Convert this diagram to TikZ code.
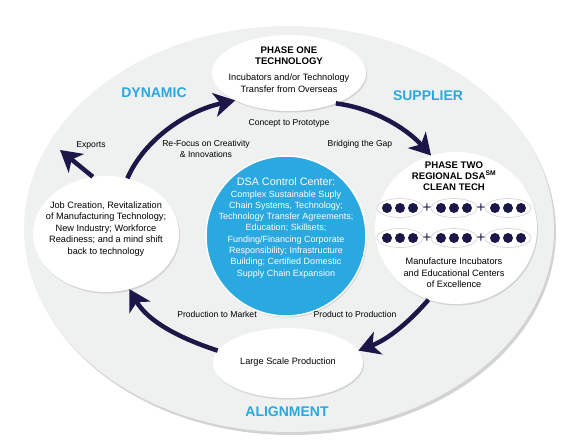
\documentclass[tikz,border=0pt]{standalone}
\usepackage{fontspec}
\setmainfont{Liberation Sans}
\usetikzlibrary{arrows.meta}
\usetikzlibrary{shapes}
\usetikzlibrary{shadows}

\definecolor{navy}{HTML}{1B1748}
\definecolor{dsablue}{HTML}{2AA8E0}
\definecolor{panel}{HTML}{EFF0F0}

\begin{document}
\begin{tikzpicture}[x=1pt, y=-1pt,
    bubble/.style={ellipse, fill=white, inner sep=0pt,
        drop shadow={shadow xshift=1pt, shadow yshift=-1.5pt, opacity=0.25}},
    txt/.style={align=center, font=\fontsize{9.2}{11.5}\selectfont},
    head/.style={align=center, font=\fontsize{9.6}{10.8}\selectfont\bfseries},
    tag/.style={align=center, font=\fontsize{8.6}{11}\selectfont},
    banner/.style={text=dsablue, font=\fontsize{14}{16}\selectfont\bfseries},
    flow/.style={draw=navy, line width=4.5pt, -{Stealth[length=21pt, width=24pt, inset=6pt]}},
    pod/.style={ellipse, fill=white, draw=navy!18, line width=0.7pt,
        minimum width=46pt, minimum height=19pt, inner sep=0pt},
    bead/.style={circle, fill=navy, minimum size=10pt, inner sep=0pt},
    plus/.style={text=navy, inner sep=0pt, font=\fontsize{15}{15}\selectfont}]

            \useasboundingbox (0,0) rectangle (564,446);

            % background board
            \node[ellipse, fill=panel, minimum width=530pt, minimum height=406pt,
                drop shadow={shadow xshift=2pt, shadow yshift=-3pt, opacity=0.35}] (board) at (289,229) {};

            % phase one
            \node[bubble, minimum width=154pt, minimum height=76pt] (phase1) at (289,73) {};
            \node[head] (phase1-title) at (289,56) {PHASE ONE\\TECHNOLOGY};
            \node[txt] (phase1-text) at (289,83) {Incubators and/or Technology\\Transfer from Overseas};

            % phase two
            \node[bubble, minimum width=162pt, minimum height=152pt] (phase2) at (456,228) {};
            \node[head] (phase2-title) at (454,176) {PHASE TWO\\REGIONAL DSA\textsuperscript{SM}\\CLEAN TECH};
            \foreach \row/\y in {1/208, 2/238} {
                \foreach \col/\x in {1/400, 2/454, 3/508} {
                    \node[pod] (pod-\row-\col) at (\x,\y) {};
                    \foreach \k/\d in {a/-13, b/0, c/13}
                        \node[bead] (bead-\row-\col-\k) at ([xshift=\d pt]pod-\row-\col) {};
                }
                \node[plus] (plus-\row-1) at (427,\y) {+};
                \node[plus] (plus-\row-2) at (481,\y) {+};
            }
            \node[txt] (phase2-text) at (454,273) {Manufacture Incubators\\and Educational Centers\\of Excellence};

            % production
            \node[bubble, minimum width=150pt, minimum height=70pt] (prod) at (288,363) {};
            \node[txt] (prod-text) at (288,362) {Large Scale Production};

            % jobs
            \node[bubble, minimum width=146pt, minimum height=116pt] (jobs) at (106,234) {};
            \node[txt] (jobs-text) at (106,229) {Job Creation, Revitalization\\of Manufacturing Technology;\\New Industry; Workforce\\Readiness; and a mind shift\\back to technology};

            % control center
            \node[circle, fill=dsablue, draw=white, line width=1.5pt, minimum size=160pt,
                drop shadow={shadow xshift=1pt, shadow yshift=-1.5pt, opacity=0.3}] (hub) at (286,236) {};
            \node[txt, text=white, font=\fontsize{9}{11.3}\selectfont] (hub-text) at (286,228)
                {{\fontsize{10.8}{12.5}\selectfont DSA Control Center:}\\Complex Sustainable Suply\\Chain Systems, Technology;\\Technology Transfer Agreements;\\Education; Skillsets;\\Funding/Financing Corporate\\Responsibility; Infrastructure\\Building; Certified Domestic\\Supply Chain Expansion};

            % cycle
            \draw[flow] (jobs.69) .. controls (144,140) and (186,111) .. (phase1.207);
            \draw[flow] (phase1.-33) .. controls (373,108) and (406,128) .. (phase2.109);
            \draw[flow] (phase2.249) .. controls (410,321) and (389,339) .. (prod.10);
            \draw[flow] (prod.170) .. controls (176,337) and (147,320) .. (jobs.-67);
            \coordinate (exports-tip) at (60,150);
            \draw[flow] (jobs.103) -- (exports-tip);

            % labels
            \node[tag] (concept) at (289,123) {Concept to Prototype};
            \node[tag] (bridging) at (360,144) {Bridging the Gap};
            \node[tag] (refocus) at (206,149) {Re-Focus on Creativity\\\& Innovations};
            \node[tag] (market) at (217,314) {Production to Market};
            \node[tag] (product) at (355,314) {Product to Production};
            \node[tag] (exports) at (91,145) {Exports};
            \node[banner] (dynamic) at (154,93) {DYNAMIC};
            \node[banner] (supplier) at (428,96) {SUPPLIER};
            \node[banner] (alignment) at (287,412) {ALIGNMENT};
        \end{tikzpicture}
\end{document}
